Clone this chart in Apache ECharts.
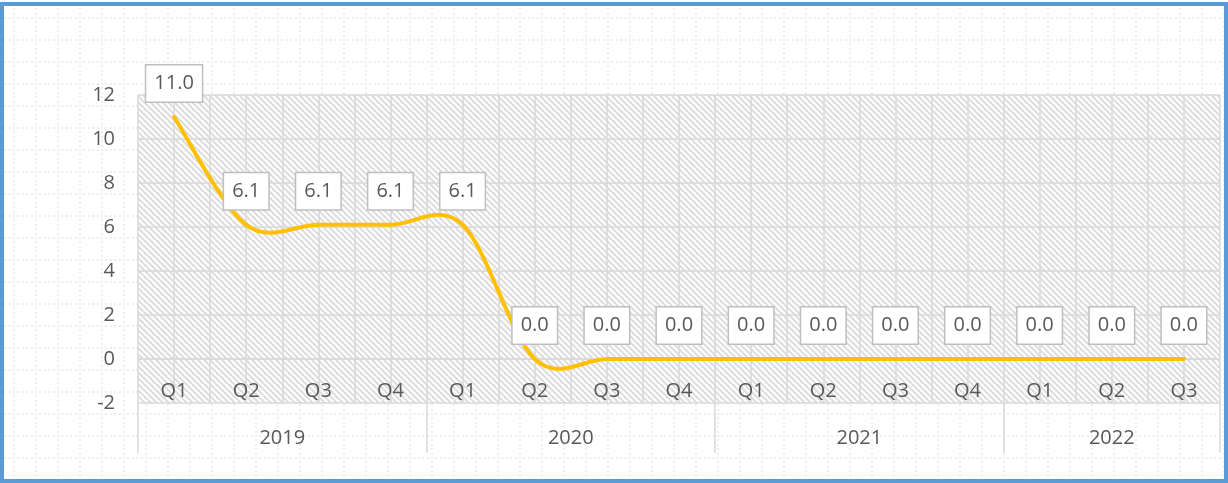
<!DOCTYPE html>
<html>
<head>
<meta charset="utf-8">
<script src="https://cdn.jsdelivr.net/npm/echarts@6/dist/echarts.min.js"></script>
<style>
  html, body { margin: 0; padding: 0; background: #fff; }
  #frame {
    position: absolute; left: 0; top: 2px; width: 1228px; height: 481px;
    box-sizing: border-box; border: 4px solid #5b9bd5; background-color: #fff;
  }
  #chart { position: absolute; left: 0; top: 0; width: 1228px; height: 483px; }
</style>
</head>
<body>
<div id="frame"></div>
<div id="chart"></div>
<script>
// quarterly values, 2019 Q1 .. 2022 Q3
const quarters = ["Q1", "Q2", "Q3", "Q4", "Q1", "Q2", "Q3", "Q4", "Q1", "Q2", "Q3", "Q4", "Q1", "Q2", "Q3"];
const years = ["2019", "2020", "2021", "2022"];
const quartersPerYear = [4, 4, 4, 3];
const rateValues = [11.0, 6.1, 6.1, 6.1, 6.1, 0.0, 0.0, 0.0, 0.0, 0.0, 0.0, 0.0, 0.0, 0.0, 0.0];
const yMin = -2;
const yMax = 12;
const yStep = 2;

const FONT = "'Open Sans', 'Noto Sans', sans-serif";
const TEXT = "#595959";
const GRID_LINE = "#d9d9d9";
const LINE_COLOR = "#ffc000";

// year group boundaries and centres on a 0..n scale
const yearEdges = [0];
quartersPerYear.forEach((n, i) => yearEdges.push(yearEdges[i] + n));
const yearMids = years.map((_, i) => (yearEdges[i] + yearEdges[i + 1]) / 2);

function hatchPattern() {
  const c = document.createElement("canvas");
  const s = 6;
  c.width = s; c.height = s;
  const ctx = c.getContext("2d");
  ctx.fillStyle = "#fff";
  ctx.fillRect(0, 0, s, s);
  ctx.strokeStyle = "#dedede";
  ctx.lineWidth = 2.2;
  for (const k of [-s, 0, s]) {
    ctx.beginPath();
    ctx.moveTo(k - 1, -1);
    ctx.lineTo(k + s + 1, s + 1);
    ctx.stroke();
  }
  return { image: c, repeat: "repeat" };
}

function dottedBackground() {
  const c = document.createElement("canvas");
  c.width = 22; c.height = 22;
  const ctx = c.getContext("2d");
  ctx.fillStyle = "#ededed";
  for (const p of [0, 4, 9, 13, 18]) {
    ctx.fillRect(p, 0, 2, 2);
    ctx.fillRect(0, p, 2, 2);
  }
  const frame = document.getElementById("frame");
  frame.style.backgroundImage = "url(" + c.toDataURL() + ")";
  frame.style.backgroundPosition = "9px 11px";
}

// smooth line like the spreadsheet one: catmull-rom segments through each point
function renderSegment(params, api) {
  const i = params.dataIndex;
  const n = rateValues.length;
  if (i >= n - 1) return null;
  const at = (k) => {
    const j = Math.max(0, Math.min(n - 1, k));
    return api.coord([j, rateValues[j]]);
  };
  const p0 = at(i - 1), p1 = at(i), p2 = at(i + 1), p3 = at(i + 2);
  return {
    type: "bezierCurve",
    shape: {
      x1: p1[0], y1: p1[1],
      x2: p2[0], y2: p2[1],
      cpx1: p1[0] + (p2[0] - p0[0]) / 6, cpy1: p1[1] + (p2[1] - p0[1]) / 6,
      cpx2: p2[0] - (p3[0] - p1[0]) / 6, cpy2: p2[1] - (p3[1] - p1[1]) / 6,
    },
    style: { stroke: LINE_COLOR, lineWidth: 4, fill: "none", lineCap: "round" },
  };
}

dottedBackground();

const chart = echarts.init(document.getElementById("chart"));
chart.setOption({
  backgroundColor: "transparent",
  animation: false,
  textStyle: { fontFamily: FONT },
  grid: {
    left: 138, right: 8, top: 95, bottom: 80,
    show: true, backgroundColor: hatchPattern(), borderWidth: 0,
  },
  xAxis: [
    {
      type: "category",
      data: quarters,
      boundaryGap: true,
      position: "bottom",
      offset: -44,
      axisLine: { onZero: false, lineStyle: { color: GRID_LINE, width: 1.5 } },
      axisTick: { show: false },
      axisLabel: { color: TEXT, fontSize: 20, fontFamily: FONT, margin: 22 },
      splitLine: { show: false },
      z: 3,
    },
    {
      type: "value",
      min: 0, max: quarters.length,
      position: "bottom",
      axisLine: { show: false, onZero: false },
      axisTick: {
        show: true, customValues: yearEdges, length: 50,
        lineStyle: { color: GRID_LINE, width: 1.5 },
      },
      axisLabel: {
        customValues: yearMids, color: TEXT, fontSize: 20, fontFamily: FONT, margin: 25,
        formatter: (v) => years[yearMids.indexOf(v)] ?? "",
      },
      splitLine: { show: false },
    },
    {
      type: "value",
      min: 0, max: quarters.length * 2, interval: 1,
      show: true,
      axisLine: { show: false, onZero: false },
      axisTick: { show: false },
      axisLabel: { show: false },
      splitLine: { show: true, lineStyle: { color: GRID_LINE, width: 1.5 } },
    },
  ],
  yAxis: {
    type: "value",
    min: yMin, max: yMax, interval: yStep,
    axisLine: { show: false },
    axisTick: { show: false },
    axisLabel: { color: TEXT, fontSize: 20, fontFamily: FONT, margin: 23 },
    splitLine: { lineStyle: { color: GRID_LINE, width: 1.5 } },
  },
  series: [
    {
      name: "rate-curve",
      type: "custom",
      xAxisIndex: 0,
      yAxisIndex: 0,
      data: rateValues.map((v, i) => [i, v]),
      encode: { x: 0, y: 1 },
      renderItem: renderSegment,
      clip: false,
      z: 4,
    },
    {
      name: "rate",
      type: "line",
      xAxisIndex: 0,
      data: rateValues,
      symbol: "circle",
      symbolSize: 1,
      showSymbol: true,
      itemStyle: { color: "rgba(0,0,0,0)", borderWidth: 0 },
      lineStyle: { opacity: 0, width: 0 },
      z: 6,
      label: {
        show: true,
        position: "top",
        distance: 15,
        formatter: (p) => p.value.toFixed(1),
        color: TEXT,
        fontSize: 20,
        fontFamily: FONT,
        lineHeight: 20,
        backgroundColor: "#fff",
        borderColor: "#bfbfbf",
        borderWidth: 1.5,
        padding: [8, 8, 8, 8],
      },
    },
  ],
});
</script>
</body>
</html>
